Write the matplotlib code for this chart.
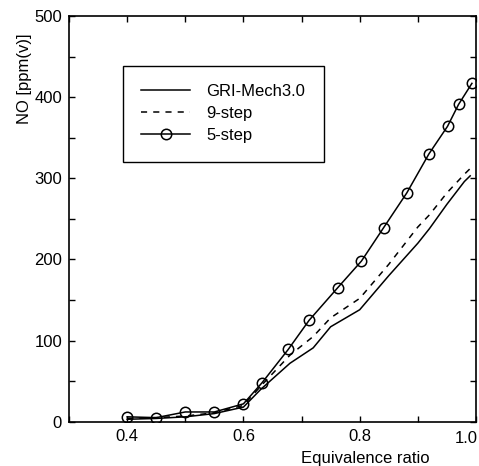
import numpy as np
import matplotlib
matplotlib.use("Agg")
import matplotlib.pyplot as plt
from matplotlib.transforms import ScaledTranslation

plt.rcParams['font.family'] = ['Liberation Sans', 'DejaVu Sans']

# values
phi_ref = [0.40, 0.45, 0.50, 0.55, 0.60, 0.63, 0.68, 0.72, 0.75, 0.80,
           0.85, 0.90, 0.92, 0.95, 0.98, 0.99]
no_gri = [3, 4, 6, 10, 18, 40, 72, 91, 117, 138, 180, 220, 238, 268, 296, 303]
no_9step = [4, 5, 7, 11, 20, 44, 82, 105, 128, 152, 194, 240, 255, 282, 305, 312]

phi_5step = [0.40, 0.45, 0.50, 0.55, 0.60, 0.632, 0.677, 0.713, 0.762, 0.803,
             0.841, 0.881, 0.919, 0.951, 0.970, 0.993]
no_5step = [6, 5, 12, 12, 22, 48, 89, 125, 165, 198, 239, 282, 330, 364, 391, 417]

labels = ['GRI-Mech3.0', '9-step', '5-step']
xtick_vals = [0.4, 0.6, 0.8, 1.0]
xtick_text = ['0.4', '0.6', '0.8', '1.0']

fig = plt.figure(figsize=(4.79, 4.66), dpi=100)
ax = fig.add_axes([69 / 479, 1 - 421.7 / 466, 407 / 479, 405.7 / 466])

ax.plot(phi_ref, no_gri, '-', color='black', lw=1.1, label=labels[0])
ax.plot(phi_ref, no_9step, '--', color='black', lw=1.1, dashes=(4, 4), label=labels[1])
ax.plot(phi_5step, no_5step, '-', color='black', lw=1.1, marker='o', ms=7.5,
        mfc='none', mec='black', mew=1.1, label=labels[2])

ax.set_xlim(0.3, 1.0)
ax.set_ylim(0, 500)
ax.set_xticks(xtick_vals)
# last label sits on the figure edge, draw it separately a bit to the left
ax.set_xticklabels(xtick_text[:-1] + [''])
ax.text(xtick_vals[-1], 0, xtick_text[-1], fontsize=12, ha='center', va='top',
        transform=ax.get_xaxis_transform()
        + ScaledTranslation(-9.5 / 100, -9 / 100, fig.dpi_scale_trans))
ax.set_xticks(np.arange(0.3, 1.01, 0.1), minor=True)
ax.set_yticks(np.arange(0, 501, 100))
ax.set_yticks(np.arange(0, 501, 50), minor=True)
ax.tick_params(which='both', direction='in', top=True, right=True,
               length=4, width=1.0, labelsize=12, pad=5)
for s in ax.spines.values():
    s.set_linewidth(1.2)

ax.set_xlabel('Equivalence ratio', fontsize=12)
ax.xaxis.set_label_coords(0.727, -0.072)
ax.set_ylabel('NO [ppm(v)]', fontsize=12)
ax.yaxis.set_label_coords(-0.091, 0.845)

leg = ax.legend(loc='upper left', bbox_to_anchor=(0.133, 0.877), fontsize=12,
                frameon=True, fancybox=False, edgecolor='black', framealpha=1,
                handlelength=2.9, handletextpad=1.0, labelspacing=0.42,
                borderpad=1.1, borderaxespad=0)
leg.get_frame().set_linewidth(1.0)

fig.savefig('out.png', dpi=100)
